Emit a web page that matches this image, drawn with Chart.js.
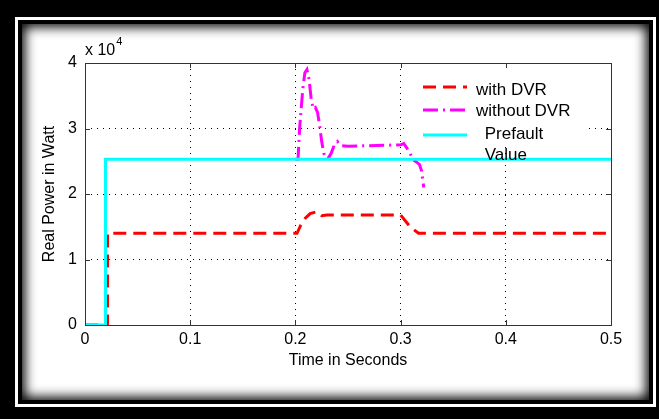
<!DOCTYPE html>
<html>
<head>
<meta charset="utf-8">
<script src="https://cdn.jsdelivr.net/npm/chart.js@4"></script>
<style>
  html, body { margin:0; padding:0; background:#000; width:659px; height:419px; overflow:hidden; }
  .outer { position:absolute; left:15px; top:17px; width:641px; height:390px; box-sizing:border-box; border:3px solid #fff; background:#000; }
  .inner { position:absolute; left:4px; top:4px; right:4px; bottom:4px; background:#fff; box-shadow: inset 0 0 12px 3px #000; }
  canvas { position:absolute; left:0; top:0; }
</style>
</head>
<body>
<div class="outer"><div class="inner"></div></div>
<canvas id="c" width="659" height="419"></canvas>
<script>
// ---- data (time in s, power in W) ----
const seriesNames = ['with DVR', 'without DVR', ' Prefault', ' Value'];

const tWith = [0, 0.021, 0.0214, 0.0214, 0.2015, 0.205, 0.2094, 0.214, 0.2205, 0.225, 0.23, 0.30, 0.309, 0.317, 0.5];
const pWith = [0, 0, 0, 14000, 14000, 15200, 16300, 17000, 17300, 16700, 16800, 16800, 15000, 14000, 14000];

const tWithout = [0.2, 0.2025, 0.204, 0.207, 0.209, 0.211, 0.213, 0.215, 0.217, 0.219, 0.221, 0.223, 0.225, 0.227, 0.229, 0.231, 0.234, 0.237, 0.240, 0.243, 0.25, 0.3, 0.303, 0.306, 0.309, 0.312, 0.315, 0.318, 0.320, 0.321, 0.322];
const pWithout = [25300, 25300, 30000, 36000, 38500, 39000, 37500, 34500, 33000, 33200, 32500, 30500, 28000, 26200, 25500, 25400, 26200, 27500, 28000, 27400, 27300, 27500, 27700, 27000, 26200, 25200, 24900, 24500, 23500, 22200, 21000];

const tPrefault = [0, 0.0195, 0.0195, 0.5];
const pPrefault = [0, 0, 25300, 25300];

const xTicks = [0, 0.1, 0.2, 0.3, 0.4, 0.5];
const yTicks = [0, 10000, 20000, 30000, 40000];
const yMultiplierText = 'x 10';
const yMultiplierExp = '4';
const xTitle = 'Time in Seconds';
const yTitle = 'Real Power in Watt';

const toPts = (t, p) => t.map((x, i) => ({x: x, y: p[i]}));

const FONT = '"Liberation Sans", Arial, Helvetica, sans-serif';

const styles = [
  {color:'#ff0000', dash:[13,7]},
  {color:'#ff00ff', dash:[15,5,2,5]},
  {color:'#00ffff', dash:[]}
];

const framePlugin = {
  id: 'matlabFrame',
  afterDraw(chart) {
    const {ctx, chartArea: a, scales} = chart;
    ctx.save();
    // legend box
    ctx.fillStyle = '#fff';
    ctx.fillRect(405, 68, 183, 74);
    const entries = [
      {y: 87, st: styles[0], text: seriesNames[0], tx: 476, ty: 90},
      {y: 110, st: styles[1], text: seriesNames[1], tx: 476, ty: 111},
      {y: 135, st: styles[2], text: seriesNames[2], tx: 480, ty: 134}
    ];
    entries.forEach(e => {
      ctx.beginPath();
      ctx.strokeStyle = e.st.color;
      ctx.lineWidth = 3;
      ctx.setLineDash(e.st.dash);
      ctx.moveTo(423, e.y); ctx.lineTo(467, e.y);
      ctx.stroke();
      ctx.setLineDash([]);
      ctx.fillStyle = '#000';
      ctx.font = '17px ' + FONT;
      ctx.textBaseline = 'middle';
      ctx.textAlign = 'left';
      ctx.fillText(e.text, e.tx, e.ty);
    });
    ctx.fillText(seriesNames[3], 480, 155);

    // axes box
    ctx.strokeStyle = '#333';
    ctx.lineWidth = 1;
    ctx.strokeRect(Math.round(a.left) + 0.5, Math.round(a.top) + 0.5, Math.round(a.right - a.left), Math.round(a.bottom - a.top));
    // inward ticks
    ctx.beginPath();
    xTicks.forEach(v => {
      const x = Math.round(scales.x.getPixelForValue(v)) + 0.5;
      ctx.moveTo(x, a.bottom); ctx.lineTo(x, a.bottom - 5);
      ctx.moveTo(x, a.top); ctx.lineTo(x, a.top + 5);
    });
    yTicks.forEach(v => {
      const y = Math.round(scales.y.getPixelForValue(v)) + 0.5;
      ctx.moveTo(a.left, y); ctx.lineTo(a.left + 5, y);
      ctx.moveTo(a.right, y); ctx.lineTo(a.right - 5, y);
    });
    ctx.stroke();

    // exponent label
    ctx.fillStyle = '#000';
    ctx.textBaseline = 'alphabetic';
    ctx.textAlign = 'left';
    ctx.font = '16px ' + FONT;
    ctx.fillText(yMultiplierText, a.left, a.top - 8);
    const w = ctx.measureText(yMultiplierText).width;
    ctx.font = '11px ' + FONT;
    ctx.fillText(yMultiplierExp, a.left + w + 1, a.top - 18);
    ctx.restore();
  }
};

new Chart(document.getElementById('c'), {
  type: 'line',
  data: {
    datasets: [
      {label: seriesNames[0], data: toPts(tWith, pWith), borderColor: styles[0].color, borderDash: styles[0].dash, borderWidth: 3, order: 2},
      {label: seriesNames[1], data: toPts(tWithout, pWithout), borderColor: styles[1].color, borderDash: styles[1].dash, borderWidth: 3, order: 1},
      {label: seriesNames[2] + seriesNames[3], data: toPts(tPrefault, pPrefault), borderColor: styles[2].color, borderWidth: 3, order: 0}
    ]
  },
  options: {
    responsive: false,
    animation: false,
    devicePixelRatio: 1,
    parsing: false,
    elements: { point: { radius: 0 }, line: { tension: 0, fill: false } },
    layout: { padding: { top: 63, right: 48, left: 0, bottom: 0 } },
    plugins: { legend: { display: false }, tooltip: { enabled: false } },
    scales: {
      x: {
        type: 'linear', min: 0, max: 0.5,
        afterBuildTicks: s => { s.ticks = xTicks.map(v => ({value: v})); },
        afterFit: s => { s.height = 94; },
        ticks: { color: '#000', padding: 5, font: { family: FONT, size: 16 }, maxRotation: 0,
                 callback: v => String(v) },
        grid: { color: '#000', lineWidth: 1, drawTicks: false },
        border: { display: false, dash: [1, 5] },
        title: { display: true, text: xTitle, color: '#000', font: { family: FONT, size: 16 }, padding: { top: 0, bottom: 49 } }
      },
      y: {
        type: 'linear', min: 0, max: 40000,
        afterBuildTicks: s => { s.ticks = yTicks.map(v => ({value: v})); },
        afterFit: s => { s.width = 85; },
        ticks: { color: '#000', padding: 8, font: { family: FONT, size: 16 },
                 callback: v => String(v / 10000) },
        grid: { color: '#000', lineWidth: 1, drawTicks: false },
        border: { display: false, dash: [1, 5] },
        title: { display: true, text: yTitle, color: '#000', font: { family: FONT, size: 16 }, padding: { top: 40, bottom: 0 } }
      }
    }
  },
  plugins: [framePlugin]
});
</script>
</body>
</html>
